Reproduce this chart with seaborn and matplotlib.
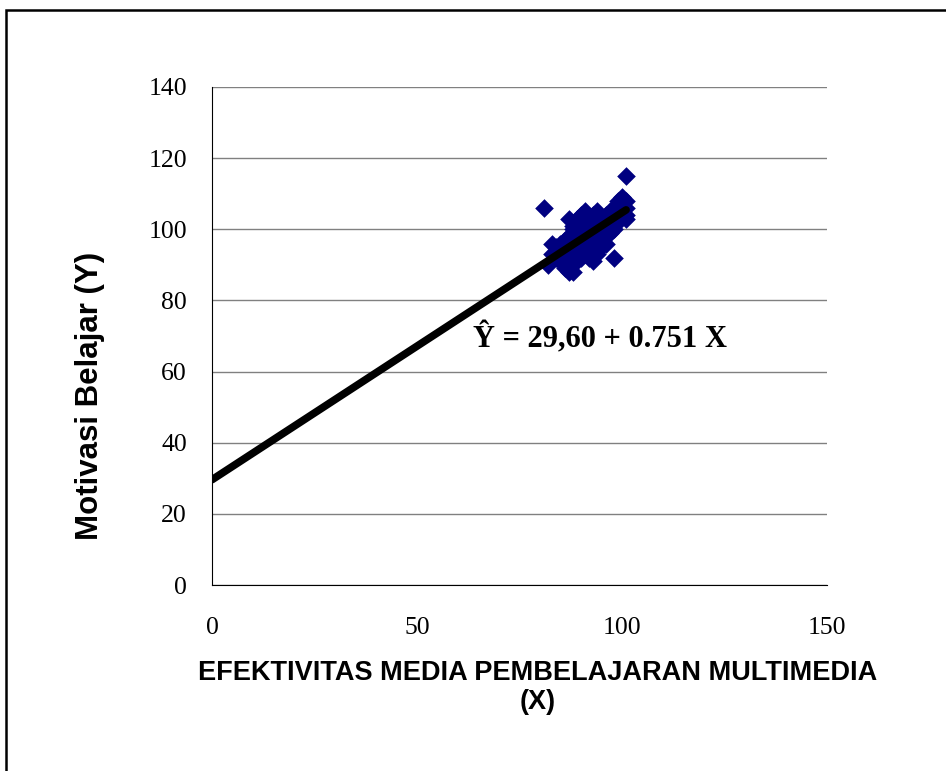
import numpy as np
import pandas as pd
import matplotlib
matplotlib.use("Agg")
import matplotlib.pyplot as plt
from matplotlib.patches import Rectangle
import seaborn as sns

# skor X (efektivitas media) dan Y (motivasi belajar)
x_vals = [81, 82, 83, 83, 84, 84, 84, 85, 85, 85,
          86, 86, 86, 86, 87, 87, 87, 87, 87, 88,
          88, 88, 88, 88, 89, 89, 89, 89, 89, 90,
          90, 90, 90, 90, 91, 91, 91, 91, 91, 92,
          92, 92, 92, 92, 93, 93, 93, 93, 93, 94,
          94, 94, 94, 94, 95, 95, 95, 95, 96, 96,
          96, 96, 97, 97, 97, 98, 98, 98, 98, 99,
          99, 99, 100, 100, 100, 101, 101, 101, 101, 101]
y_vals = [106, 90, 96, 93, 94, 92, 95, 96, 93, 91,
          97, 94, 92, 89, 103, 98, 95, 88, 92, 100,
          96, 93, 88, 101, 103, 99, 95, 91, 97, 104,
          101, 97, 94, 92, 105, 100, 96, 93, 98, 103,
          99, 95, 92, 101, 104, 101, 97, 94, 91, 105,
          102, 99, 96, 93, 103, 100, 97, 95, 104, 101,
          98, 96, 105, 102, 99, 106, 103, 100, 92, 108,
          105, 102, 109, 107, 104, 115, 106, 104, 103, 108]

intercept = 29.60
slope = 0.751
line_x = [0, 101]

df = pd.DataFrame({"X": x_vals, "Y": y_vals})
line_df = pd.DataFrame({"X": line_x, "Y": [intercept + slope * v for v in line_x]})

sns.set_style("white", {"text.color": "black", "axes.labelcolor": "black",
                        "xtick.color": "black", "ytick.color": "black"})
fig = plt.figure(figsize=(9.46, 7.71), dpi=100)
ax = fig.add_axes([0.2241, 0.2412, 0.6501, 0.6460])

sns.scatterplot(data=df, x="X", y="Y", marker="D", s=90, color="#000080",
                edgecolor="#000080", linewidth=0, ax=ax, zorder=3)
sns.lineplot(data=line_df, x="X", y="Y", color="black", linewidth=5.5,
             ax=ax, zorder=4, solid_capstyle="round")

ax.set_xlim(0, 150)
ax.set_ylim(0, 140)
ax.set_xticks([0, 50, 100, 150])
ax.set_yticks(range(0, 141, 20))
ax.yaxis.grid(True, color="#808080", linewidth=1)
ax.set_axisbelow(True)
for s in ["top", "right"]:
    ax.spines[s].set_visible(False)
ax.spines["left"].set_color("black")
ax.spines["bottom"].set_color("black")
ax.tick_params(axis="both", which="both", direction="out", length=6,
               color="#a0a0a0", labelcolor="black", labelsize=18.5)
ax.tick_params(axis="x", pad=17)
ax.tick_params(axis="y", pad=12)
for lab in ax.get_xticklabels() + ax.get_yticklabels():
    lab.set_fontfamily("Liberation Serif")

ax.set_xlabel("EFEKTIVITAS MEDIA PEMBELAJARAN MULTIMEDIA\n(X)",
              fontfamily="Liberation Sans", fontweight="bold", fontsize=19.5,
              linespacing=1.15)
ax.xaxis.set_label_coords(0.530, -0.205)
ax.xaxis.label.set_va("center")
ax.set_ylabel("Motivasi Belajar (Y)", fontfamily="Liberation Sans",
              fontweight="bold", fontsize=22.5)
ax.yaxis.set_label_coords(-0.198, 0.38)
ax.yaxis.label.set_va("center")

ax.text(63.7, 69.2, "Ŷ = 29,60 + 0.751 X", fontfamily="Liberation Serif",
        fontweight="bold", fontsize=22, va="center", ha="left")

fig.patches.append(Rectangle((6 / 946, -0.05), 1.2, 1.05 - 10 / 771,
                             transform=fig.transFigure, fill=False,
                             edgecolor="black", linewidth=1.8))

fig.savefig("out.png", dpi=100)
